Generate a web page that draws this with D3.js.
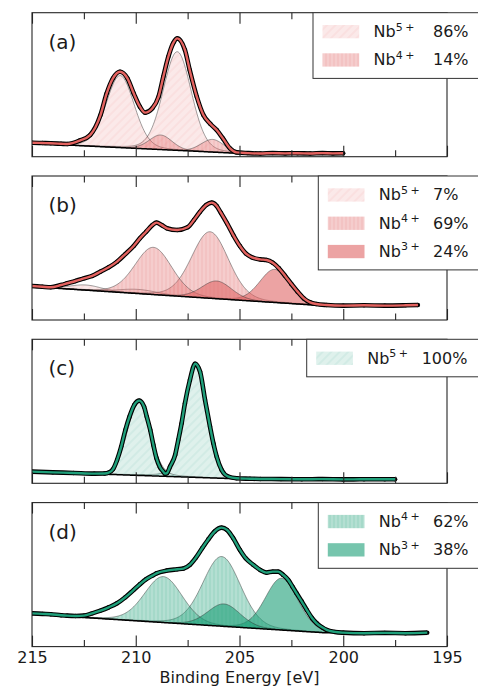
<!DOCTYPE html>
<html lang="en">
<head>
    <meta charset="UTF-8">
    <title>Nb 3d XPS fits</title>
    <script src="https://cdnjs.cloudflare.com/ajax/libs/d3/7.8.5/d3.min.js"></script>
    <style>
        body {
            margin: 0;
            background: #fff;
        }
        svg {
            display: block;
            font-family: "DejaVu Sans", sans-serif;
        }
    </style>
</head>
<body>
    <svg id="chart" width="478" height="689"></svg>
    <script>
        // binding energy ticks
        const majorTicks = [215, 210, 205, 200, 195];
        const minorTicks = [212.5, 207.5, 202.5, 197.5];

        // (a) measured spectrum, intensity in % of panel height
        const energyA = [215, 214.5, 214.1, 213.6, 213.3, 212.7, 212.2, 211.7, 211.4, 211.1, 210.76, 210.4, 210.1, 209.8, 209.55, 209.2, 208.9, 208.67, 208.43, 208.2, 208.0, 207.63, 207.4, 207.06, 206.74, 206.4, 206.1, 205.8, 205.46, 205.14, 204.6, 204, 203.4, 202.8, 202.2, 201.6, 201, 200.5, 200];
        const countsA = [9.7, 9.5, 9.3, 9.0, 8.8, 11.2, 15.0, 28.9, 44.0, 54.4, 59.0, 54.4, 44.0, 34.7, 30.6, 33.6, 41.7, 55.6, 69.4, 78.7, 82.2, 74.1, 60.2, 41.7, 28.9, 22.7, 18.5, 12.7, 5.8, 3.0, 2.5, 2.2, 2.5, 2.3, 2.4, 2.2, 2.5, 2.3, 2.4];
        // fit components: [centre eV, height, fwhm]
        const nb5A = [[208.0, 68.5, 1.6], [210.75, 50, 1.6]];
        const nb4A = [[206.3, 8.8, 1.3], [208.8, 10.1, 1.3]];
        const bgA = [2.3, 0.7, 205]; // level, slope per eV, onset
        const sharesA = ["86%", "14%"];

        // (b)
        const energyB = [215, 214.5, 214.1, 213.6, 213.3, 212.9, 212.5, 212.1, 211.7, 211.3, 210.9, 210.5, 210.1, 209.8, 209.5, 209.2, 209.0, 208.75, 208.5, 208.0, 207.5, 207.2, 206.9, 206.6, 206.34, 206.1, 205.9, 205.6, 205.3, 204.98, 204.7, 204.4, 204.0, 203.7, 203.4, 203.1, 202.8, 202.5, 202.2, 201.9, 201.6, 201.3, 200.8, 200.0, 199.0, 198.0, 197.0, 196.4];
        const countsB = [23.6, 23.1, 22.7, 24.3, 25.5, 27.1, 28.9, 30.6, 33.6, 36.6, 40.5, 45.8, 51.4, 56.7, 61.3, 65.9, 67.6, 65.9, 63.7, 62.5, 64.4, 69.4, 75.2, 79.9, 81.5, 79.2, 74.5, 67.1, 59.0, 51.4, 46.3, 43.5, 42.1, 41.7, 39.8, 35.9, 30.6, 25.0, 19.7, 15.0, 12.3, 11.1, 10.4, 10.0, 10.2, 10.0, 10.2, 10.4];
        const nb5B = [[209.9, 2.9, 2.2], [212.4, 3.6, 1.8]];
        const nb4B = [[206.42, 46.2, 2.1], [209.15, 32.8, 2.1]];
        const nb3B = [[203.3, 23, 1.7], [206.1, 12.3, 1.7]];
        const bgB = [10, 0.94, 201];
        const sharesB = ["7%", "69%", "24%"];

        // (c)
        const energyC = [215, 214, 213, 212, 211.5, 211.3, 211.1, 210.9, 210.7, 210.5, 210.3, 210.07, 209.83, 209.6, 209.47, 209.3, 209.15, 209.0, 208.83, 208.67, 208.6, 208.5, 208.35, 208.1, 207.95, 207.79, 207.63, 207.39, 207.14, 206.9, 206.66, 206.42, 206.26, 206.1, 205.86, 205.54, 205.14, 204.5, 204, 203, 202, 201, 200, 199, 198, 197.5];
        const countsC = [8.1, 7.6, 7.2, 6.7, 6.8, 7.4, 9.7, 16.2, 25.5, 37.0, 46.3, 54.4, 57.4, 53.2, 46.3, 37.0, 26.6, 17.4, 11.1, 8.1, 6.7, 7.0, 11.5, 19.7, 30.1, 41.7, 55.5, 71.7, 83.0, 77.5, 57.8, 39.3, 27.8, 18.5, 9.2, 4.6, 3.5, 3.2, 3.0, 2.9, 2.8, 2.9, 2.7, 2.8, 2.8, 2.8];
        const nb5C = [[207.14, 78, 1.25], [209.85, 51, 1.3]];
        const bgC = [2.8, 0.5, 204.5];
        const sharesC = ["100%"];

        // (d)
        const energyD = [215, 214.5, 214.1, 213.6, 213.3, 212.9, 212.5, 212.1, 211.7, 211.3, 210.9, 210.5, 210.1, 209.8, 209.5, 209.2, 209.0, 208.5, 208.0, 207.7, 207.4, 207.1, 206.8, 206.5, 206.2, 205.86, 205.6, 205.3, 204.98, 204.7, 204.33, 204.0, 203.7, 203.4, 203.13, 202.9, 202.65, 202.45, 202.25, 202.0, 201.76, 201.5, 201.28, 201.0, 200.8, 200.4, 200.0, 199.0, 198.0, 197.0, 195.95];
        const countsD = [23.1, 22.7, 22.5, 21.8, 21.5, 21.3, 21.5, 23.1, 25.0, 27.3, 30.1, 34.3, 39.4, 43.3, 46.8, 49.3, 50.9, 52.8, 53.7, 54.2, 56.7, 61.8, 68.3, 74.5, 79.9, 82.6, 81.0, 75.2, 67.1, 61.3, 56.7, 53.2, 51.4, 52.1, 52.1, 49.8, 46.3, 41.7, 37.0, 31.3, 25.5, 19.7, 16.2, 13.2, 11.6, 10.2, 9.7, 9.3, 9.5, 9.3, 9.7];
        const nb4D = [[205.86, 48.4, 2.15], [208.67, 31.9, 2.15]];
        const nb3D = [[202.97, 36, 1.85], [205.75, 15.6, 1.85]];
        const bgD = [9.7, 0.914, 201];
        const sharesD = ["62%", "38%"];

        const panels = [
            { tag: "(a)", energy: energyA, counts: countsA, bg: bgA, hue: "red",
              comps: [{ ox: "5", peaks: nb5A }, { ox: "4", peaks: nb4A }], shares: sharesA },
            { tag: "(b)", energy: energyB, counts: countsB, bg: bgB, hue: "red",
              comps: [{ ox: "5", peaks: nb5B }, { ox: "4", peaks: nb4B }, { ox: "3", peaks: nb3B }], shares: sharesB },
            { tag: "(c)", energy: energyC, counts: countsC, bg: bgC, hue: "green",
              comps: [{ ox: "5", peaks: nb5C }], shares: sharesC },
            { tag: "(d)", energy: energyD, counts: countsD, bg: bgD, hue: "green",
              comps: [{ ox: "4", peaks: nb4D }, { ox: "3", peaks: nb3D }], shares: sharesD }
        ];

        // layout
        const left = 32, right = 447;
        const top0 = 12.7, pitch = 163.3, panelH = 144;
        const legendLeft = [313, 318.3, 306.7, 318.3];
        const pctX = [433, 433, 421.7, 433];
        const lineColor = { red: "#e3625f", green: "#1f9f7a" };
        const baseRGB = { red: [224, 102, 102], green: [27, 158, 119] };
        const mix = 0.15; // lorentzian share of the peak shape

        const svg = d3.select("#chart");
        const defs = svg.append("defs");
        const x = d3.scaleLinear().domain([215, 195]).range([left, right]);

        const rgba = (hue, a) => `rgba(${baseRGB[hue].join(",")},${a})`;

        // hatch patterns, one per hue and oxidation state
        ["red", "green"].forEach(hue => {
            const p5 = defs.append("pattern").attr("id", `h5-${hue}`)
                .attr("patternUnits", "userSpaceOnUse").attr("width", 6).attr("height", 6)
                .attr("patternTransform", "rotate(45)");
            p5.append("rect").attr("width", 6).attr("height", 6).attr("fill", rgba(hue, 0.14));
            p5.append("line").attr("x1", 3).attr("x2", 3).attr("y1", 0).attr("y2", 6)
                .attr("stroke", rgba(hue, 0.14)).attr("stroke-width", 1);

            const p4 = defs.append("pattern").attr("id", `h4-${hue}`)
                .attr("patternUnits", "userSpaceOnUse").attr("width", 4).attr("height", 4);
            p4.append("rect").attr("width", 4).attr("height", 4).attr("fill", rgba(hue, 0.33));
            p4.append("line").attr("x1", 2).attr("x2", 2).attr("y1", 0).attr("y2", 4)
                .attr("stroke", rgba(hue, 0.2)).attr("stroke-width", 1);
        });

        const fillFor = (hue, ox) => ox === "3" ? rgba(hue, 0.6) : `url(#h${ox}-${hue})`;

        function peak(e, [c, h, w]) {
            const t = (e - c) / w;
            return h * ((1 - mix) * Math.exp(-4 * Math.LN2 * t * t) + mix / (1 + 4 * t * t));
        }

        panels.forEach((p, i) => {
            const top = top0 + i * pitch;
            const bottom = top + panelH;
            const y = d3.scaleLinear().domain([0, 100]).range([bottom, top]);
            const base = e => p.bg[0] + p.bg[1] * Math.max(0, e - p.bg[2]);

            const g = svg.append("g");
            defs.append("clipPath").attr("id", `clip${i}`)
                .append("rect").attr("x", left).attr("y", top).attr("width", right - left).attr("height", panelH);
            const plot = g.append("g").attr("clip-path", `url(#clip${i})`);

            const eMin = d3.min(p.energy), eMax = d3.max(p.energy);
            const grid = d3.range(eMin, eMax + 1e-9, 0.05);

            // components
            p.comps.forEach(c => {
                c.peaks.forEach(pk => {
                    const pts = grid.map(e => ({ e, b: base(e), v: base(e) + peak(e, pk) }));
                    plot.append("path").datum(pts)
                        .attr("fill", fillFor(p.hue, c.ox))
                        .attr("d", d3.area().x(d => x(d.e)).y0(d => y(d.b)).y1(d => y(d.v)));
                    plot.append("path").datum(pts)
                        .attr("fill", "none").attr("stroke", "#333").attr("stroke-opacity", 0.65)
                        .attr("stroke-width", 0.7)
                        .attr("d", d3.line().x(d => x(d.e)).y(d => y(d.v)));
                });
            });

            const pts = p.energy.map((e, k) => ({ e, v: p.counts[k] }));
            const trace = d3.line().x(d => x(d.e)).y(d => y(d.v)).curve(d3.curveMonotoneX);

            // measured data
            plot.append("path").datum(pts)
                .attr("fill", "none").attr("stroke", "#000").attr("stroke-width", 4.6)
                .attr("stroke-linejoin", "round").attr("d", trace);
            plot.selectAll("circle.pt").data(pts).enter().append("circle")
                .attr("class", "pt").attr("cx", d => x(d.e)).attr("cy", d => y(d.v))
                .attr("r", 2.2).attr("fill", "#000");

            // background
            plot.append("path").datum(grid)
                .attr("fill", "none").attr("stroke", "#000").attr("stroke-width", 1.5)
                .attr("d", d3.line().x(e => x(e)).y(e => y(base(e))));

            // fit envelope
            plot.append("path").datum(pts)
                .attr("fill", "none").attr("stroke", lineColor[p.hue]).attr("stroke-width", 2.4)
                .attr("d", trace);

            // ticks, inward on top and bottom
            const tickStyle = sel => {
                sel.select(".domain").remove();
                sel.selectAll(".tick line").attr("stroke", "#262626").attr("stroke-width", 1.1);
                sel.selectAll(".tick text").attr("fill", "#1a1a1a")
                    .style("font-size", "16px").style("font-family", "DejaVu Sans, sans-serif");
            };
            g.append("g").attr("transform", `translate(0,${bottom})`)
                .call(d3.axisBottom(x).tickValues(majorTicks).tickSize(-11).tickPadding(5)
                    .tickFormat(i === 3 ? d3.format("d") : () => ""))
                .call(tickStyle);
            g.append("g").attr("transform", `translate(0,${bottom})`)
                .call(d3.axisBottom(x).tickValues(minorTicks).tickSize(-6.5).tickFormat(() => ""))
                .call(tickStyle);
            g.append("g").attr("transform", `translate(0,${top})`)
                .call(d3.axisTop(x).tickValues(majorTicks).tickSize(-11).tickFormat(() => ""))
                .call(tickStyle);
            g.append("g").attr("transform", `translate(0,${top})`)
                .call(d3.axisTop(x).tickValues(minorTicks).tickSize(-6.5).tickFormat(() => ""))
                .call(tickStyle);

            g.append("rect").attr("x", left).attr("y", top)
                .attr("width", right - left).attr("height", panelH)
                .attr("fill", "none").attr("stroke", "#262626").attr("stroke-width", 1.1);

            g.append("text").attr("x", 48.5).attr("y", top + 36)
                .attr("font-size", 20).attr("fill", "#1a1a1a").text(p.tag);

            // legend
            const n = p.comps.length;
            const lx = legendLeft[i];
            const leg = g.append("g");
            leg.append("rect").attr("x", lx).attr("y", top)
                .attr("width", 200).attr("height", 9.3 + 28.2 * n)
                .attr("fill", "#fff").attr("stroke", "#333").attr("stroke-width", 1);
            p.comps.forEach((c, k) => {
                const px = lx + 9.5;
                leg.append("rect").attr("x", px).attr("y", top + 12.3 + 28.3 * k)
                    .attr("width", 36.7).attr("height", 13.3)
                    .attr("fill", fillFor(p.hue, c.ox));
                const t = leg.append("text").attr("x", px + 51).attr("y", top + 24.3 + 28.3 * k)
                    .attr("font-size", 16).attr("fill", "#1a1a1a");
                t.append("tspan").text("Nb");
                t.append("tspan").attr("dy", -6.5).attr("font-size", 11).text(c.ox);
                t.append("tspan").attr("dx", 2.5).attr("font-size", 11).text("+");
                leg.append("text").attr("x", pctX[i]).attr("y", top + 24.3 + 28.3 * k)
                    .attr("font-size", 16).attr("fill", "#1a1a1a").text(p.shares[k]);
            });
        });

        svg.append("text").attr("x", 239.5).attr("y", 683.3)
            .attr("text-anchor", "middle").attr("font-size", 16).attr("fill", "#1a1a1a")
            .text("Binding Energy [eV]");
    </script>
</body>
</html>
